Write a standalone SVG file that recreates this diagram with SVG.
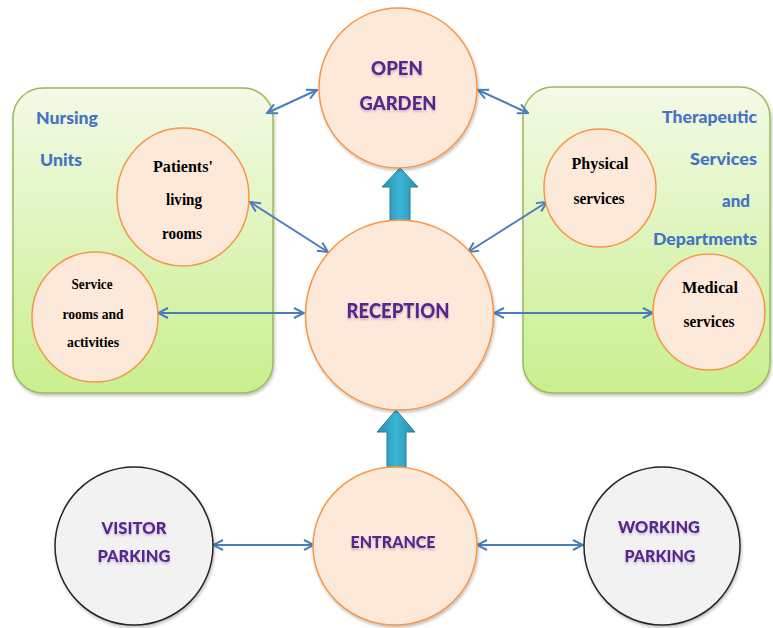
<svg xmlns="http://www.w3.org/2000/svg" width="773" height="628" viewBox="0 0 773 628">
<defs>
<linearGradient id="gGreen" x1="0" y1="0" x2="0" y2="1">
<stop offset="0" stop-color="#f3fae6"/>
<stop offset="1" stop-color="#c9ef8e"/>
</linearGradient>
<linearGradient id="gTeal" x1="0" y1="0" x2="1" y2="0">
<stop offset="0" stop-color="#2a8fae"/>
<stop offset="0.5" stop-color="#3bb4d4"/>
<stop offset="1" stop-color="#2a8fae"/>
</linearGradient>
<filter id="shadow" x="-10%" y="-10%" width="120%" height="120%">
<feDropShadow dx="1" dy="2" stdDeviation="1.5" flood-color="#000" flood-opacity="0.25"/>
</filter>
<filter id="tshadow" x="-10%" y="-30%" width="120%" height="160%">
<feDropShadow dx="0" dy="2" stdDeviation="1" flood-color="#7a5a9a" flood-opacity="0.35"/>
</filter>
<marker id="arr" viewBox="0 0 12 12" refX="11" refY="6" markerWidth="12" markerHeight="12" markerUnits="userSpaceOnUse" orient="auto-start-reverse">
<path d="M1,1 L11,6 L1,11" fill="none" stroke="#4a7ebb" stroke-width="2"/>
</marker>
</defs>
<style>
.box{fill:url(#gGreen);stroke:#9bbb59;stroke-width:1.5}
.peach{fill:#fde9d9;stroke:#f79646;stroke-width:1.5}
.grey{fill:#f2f2f2;stroke:#262626;stroke-width:1.5}
.lbl{font-family:Lato,"Open Sans","Liberation Sans",sans-serif;font-weight:900;fill:#56288c;text-anchor:middle}
.blue{font-family:Lato,"Open Sans","Liberation Sans",sans-serif;font-weight:900;fill:#4472c4}
.ser{font-family:"Liberation Serif","DejaVu Serif",serif;font-weight:bold;fill:#000;text-anchor:middle}
.con{stroke:#4a7ebb;stroke-width:2;fill:none;marker-start:url(#arr);marker-end:url(#arr)}
.blk{fill:url(#gTeal);stroke:#1f7f9c;stroke-width:1}
</style>
<rect width="773" height="628" fill="#fff"/>

<g id="nursing-units">
<rect class="box" x="13" y="88" width="260" height="305" rx="30" ry="30" filter="url(#shadow)"/>
<text class="blue" x="36" y="124" font-size="17" textLength="62" lengthAdjust="spacingAndGlyphs">Nursing</text>
<text class="blue" x="40" y="166" font-size="17" textLength="42" lengthAdjust="spacingAndGlyphs">Units</text>
</g>
<g id="therapeutic-services">
<rect class="box" x="523" y="87" width="247" height="306" rx="30" ry="30" filter="url(#shadow)"/>
<text class="blue" x="757" y="123" font-size="17" text-anchor="end" textLength="95" lengthAdjust="spacingAndGlyphs">Therapeutic</text>
<text class="blue" x="757" y="165" font-size="17" text-anchor="end" textLength="67" lengthAdjust="spacingAndGlyphs">Services</text>
<text class="blue" x="750" y="207" font-size="17" text-anchor="end" textLength="28" lengthAdjust="spacingAndGlyphs">and</text>
<text class="blue" x="757" y="245" font-size="17" text-anchor="end" textLength="104" lengthAdjust="spacingAndGlyphs">Departments</text>
</g>

<g id="connectors">
<line class="con" x1="267" y1="113" x2="317" y2="90"/>
<line class="con" x1="478" y1="90" x2="528" y2="113"/>
<line class="con" x1="250" y1="202" x2="328" y2="252"/>
<line class="con" x1="547" y1="202" x2="468" y2="252"/>
<line class="con" x1="158" y1="313" x2="304" y2="313"/>
<line class="con" x1="494" y1="313" x2="653" y2="313"/>
<line class="con" x1="213" y1="545" x2="314" y2="545"/>
<line class="con" x1="477" y1="545" x2="583" y2="545"/>
<path class="blk" d="M400,168 L418,187 L410,187 L410,221 L390,221 L390,187 L382,187 Z"/>
<path class="blk" d="M396,410 L415,432 L406,432 L406,468 L387,468 L387,432 L377,432 Z"/>
</g>

<g id="open-garden">
<ellipse class="peach" cx="398" cy="88" rx="79" ry="80" filter="url(#shadow)"/>
<text class="lbl" x="397" y="75" font-size="19" filter="url(#tshadow)" textLength="52" lengthAdjust="spacingAndGlyphs">OPEN</text>
<text class="lbl" x="398" y="110" font-size="19" filter="url(#tshadow)" textLength="77" lengthAdjust="spacingAndGlyphs">GARDEN</text>
</g>
<g id="reception">
<ellipse class="peach" cx="399.5" cy="315" rx="94" ry="95" filter="url(#shadow)"/>
<text class="lbl" x="398" y="318" font-size="21" filter="url(#tshadow)" textLength="103" lengthAdjust="spacingAndGlyphs">RECEPTION</text>
</g>
<g id="patients-living-rooms">
<ellipse class="peach" cx="183" cy="197" rx="66" ry="69"/>
<text class="ser" x="183" y="172" font-size="17" textLength="60" lengthAdjust="spacingAndGlyphs">Patients'</text>
<text class="ser" x="184" y="205" font-size="17" textLength="36" lengthAdjust="spacingAndGlyphs">living</text>
<text class="ser" x="182" y="239" font-size="17" textLength="40" lengthAdjust="spacingAndGlyphs">rooms</text>
</g>
<g id="service-rooms">
<ellipse class="peach" cx="95" cy="317" rx="63" ry="65"/>
<text class="ser" x="92" y="289" font-size="15" textLength="41" lengthAdjust="spacingAndGlyphs">Service</text>
<text class="ser" x="93" y="319" font-size="15" textLength="61" lengthAdjust="spacingAndGlyphs">rooms and</text>
<text class="ser" x="93" y="347" font-size="15" textLength="52" lengthAdjust="spacingAndGlyphs">activities</text>
</g>
<g id="physical-services">
<ellipse class="peach" cx="600" cy="188" rx="56" ry="59"/>
<text class="ser" x="600" y="169" font-size="17" textLength="57" lengthAdjust="spacingAndGlyphs">Physical</text>
<text class="ser" x="599" y="204" font-size="17" textLength="51" lengthAdjust="spacingAndGlyphs">services</text>
</g>
<g id="medical-services">
<ellipse class="peach" cx="709" cy="312" rx="56" ry="58"/>
<text class="ser" x="710" y="293" font-size="17" textLength="56" lengthAdjust="spacingAndGlyphs">Medical</text>
<text class="ser" x="709" y="327" font-size="17" textLength="51" lengthAdjust="spacingAndGlyphs">services</text>
</g>
<g id="visitor-parking">
<ellipse class="grey" cx="134" cy="546" rx="79" ry="79" filter="url(#shadow)"/>
<text class="lbl" x="134" y="534" font-size="17" filter="url(#tshadow)" textLength="65" lengthAdjust="spacingAndGlyphs">VISITOR</text>
<text class="lbl" x="134" y="562" font-size="17" filter="url(#tshadow)" textLength="73" lengthAdjust="spacingAndGlyphs">PARKING</text>
</g>
<g id="entrance">
<ellipse class="peach" cx="395" cy="546" rx="82" ry="79" filter="url(#shadow)"/>
<text class="lbl" x="393" y="548" font-size="17" filter="url(#tshadow)" textLength="85" lengthAdjust="spacingAndGlyphs">ENTRANCE</text>
</g>
<g id="working-parking">
<ellipse class="grey" cx="662" cy="546" rx="78" ry="79" filter="url(#shadow)"/>
<text class="lbl" x="659" y="533" font-size="17" filter="url(#tshadow)" textLength="82" lengthAdjust="spacingAndGlyphs">WORKING</text>
<text class="lbl" x="660" y="562" font-size="17" filter="url(#tshadow)" textLength="71" lengthAdjust="spacingAndGlyphs">PARKING</text>
</g>
</svg>
